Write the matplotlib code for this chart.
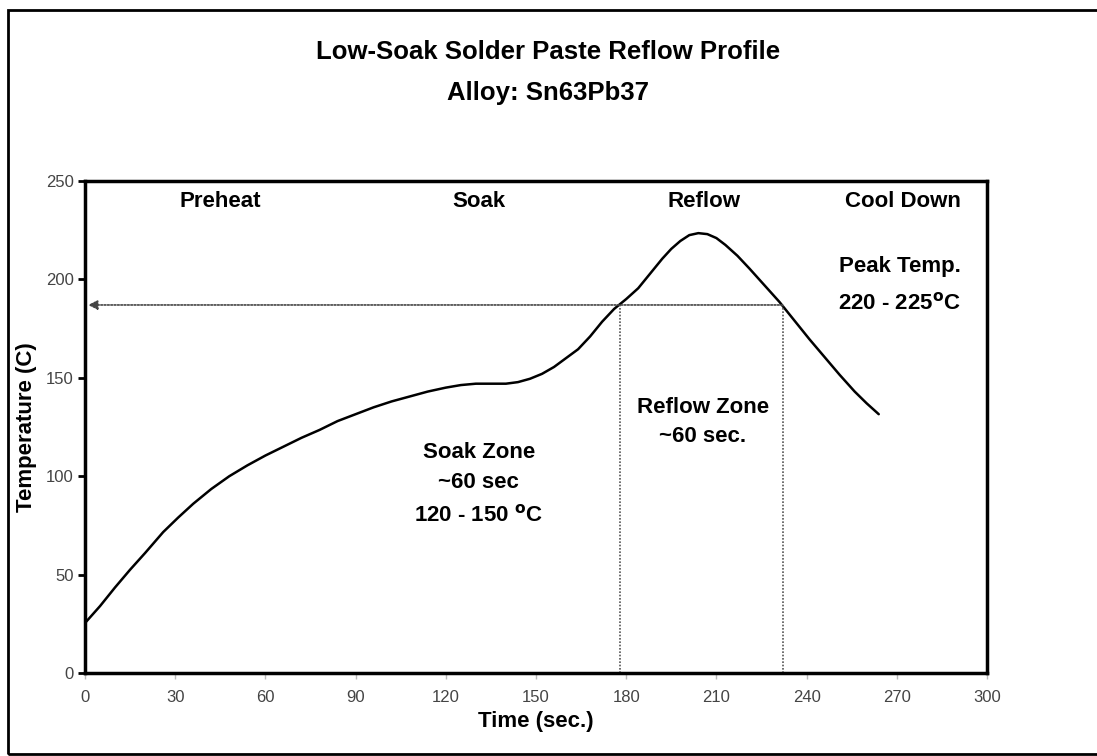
import matplotlib
matplotlib.use('Agg')
import matplotlib.pyplot as plt
from matplotlib.patches import Rectangle

plt.rcParams['font.family'] = ['Liberation Sans', 'DejaVu Sans']

# profile
time_s = [0, 5, 10, 15, 20, 26, 31, 36, 42, 48, 54, 60, 66, 72, 78, 84, 90, 96,
          102, 108, 114, 120, 125, 130, 135, 140, 144, 148, 152, 156, 160, 164,
          168, 172, 176, 180, 184, 188, 192, 195, 198, 201, 204, 207, 210, 213,
          217, 221, 226, 231, 236, 241, 246, 251, 256, 260, 264]
temp_c = [25.4, 34, 43.5, 52.5, 61, 71.6, 79, 86, 93.5, 100, 105.5, 110.5, 115,
          119.5, 123.5, 128, 131.5, 135, 138, 140.5, 143, 145, 146.3, 147, 147,
          147, 147.8, 149.5, 152, 155.5, 160, 164.5, 171, 178.5, 185, 190, 195.5,
          203, 210.5, 215.5, 219.5, 222.5, 223.5, 223, 221, 217.5, 212, 205.5,
          197, 188.5, 179, 169.5, 160.5, 151.5, 143, 137, 131.5]

liquidus_c = 187
reflow_start, reflow_end = 178, 232

x_ticks = [0, 30, 60, 90, 120, 150, 180, 210, 240, 270, 300]
y_ticks = [0, 50, 100, 150, 200, 250]

phase_names = ['Preheat', 'Soak', 'Reflow', 'Cool Down']
phase_x = [45, 131, 206, 272]

fig = plt.figure(figsize=(10.97, 7.56), dpi=100)
ax = fig.add_axes([0.0775, 0.1098, 0.8222, 0.6508])

# outer frame
fig.patches.append(Rectangle((0.0073, 0.0026), 1.1, 0.9842, transform=fig.transFigure,
                             fill=False, edgecolor='black', linewidth=2))

ax.plot(time_s, temp_c, color='black', linewidth=1.8, solid_capstyle='round',
        solid_joinstyle='round')

# dotted guides
dot = dict(color='#555555', linewidth=1.2, linestyle=(0, (1, 1)))
ax.plot([reflow_start, reflow_start], [0, liquidus_c], **dot)
ax.plot([reflow_end, reflow_end], [0, liquidus_c], **dot)
ax.annotate('', xy=(1, liquidus_c), xytext=(reflow_end, liquidus_c),
            arrowprops=dict(arrowstyle='-|>', color='#444444', lw=1.2,
                            linestyle=(0, (1, 1)), mutation_scale=14,
                            shrinkA=0, shrinkB=0))

ax.set_xlim(0, 300)
ax.set_ylim(0, 250)
ax.set_xticks(x_ticks)
ax.set_yticks(y_ticks)
ax.tick_params(axis='x', colors='#bbbbbb', labelcolor='#444444', length=4,
               width=1, labelsize=12, pad=8)
ax.tick_params(axis='y', colors='black', labelcolor='#444444', length=5,
               width=2, labelsize=12, pad=3)
for s in ax.spines.values():
    s.set_linewidth(2.5)

ax.set_xlabel('Time (sec.)', fontsize=16, fontweight='bold')
ax.set_ylabel('Temperature (C)', fontsize=16, fontweight='bold')
ax.xaxis.set_label_coords(0.5, -0.078)
ax.yaxis.set_label_coords(-0.053, 0.5)

txt = dict(ha='center', va='center', fontsize=16, fontweight='bold')
for name, x in zip(phase_names, phase_x):
    ax.text(x, 239.5, name, **txt)

ax.text(271, 206.5, 'Peak Temp.', **txt)
ax.text(271, 188, '220 - 225$^{\\mathbf{o}}$C', **txt)
ax.text(131, 112, 'Soak Zone', **txt)
ax.text(131, 97, '~60 sec', **txt)
ax.text(131, 80, '120 - 150 $^{\\mathbf{o}}$C', **txt)
ax.text(205.5, 135, 'Reflow Zone', **txt)
ax.text(205.5, 120, '~60 sec.', **txt)

fig.text(0.4995, 0.931, 'Low-Soak Solder Paste Reflow Profile', ha='center',
         va='center', fontsize=18.5, fontweight='bold')
fig.text(0.4995, 0.877, 'Alloy: Sn63Pb37', ha='center', va='center',
         fontsize=18.5, fontweight='bold')

fig.savefig('out.png', dpi=100)
